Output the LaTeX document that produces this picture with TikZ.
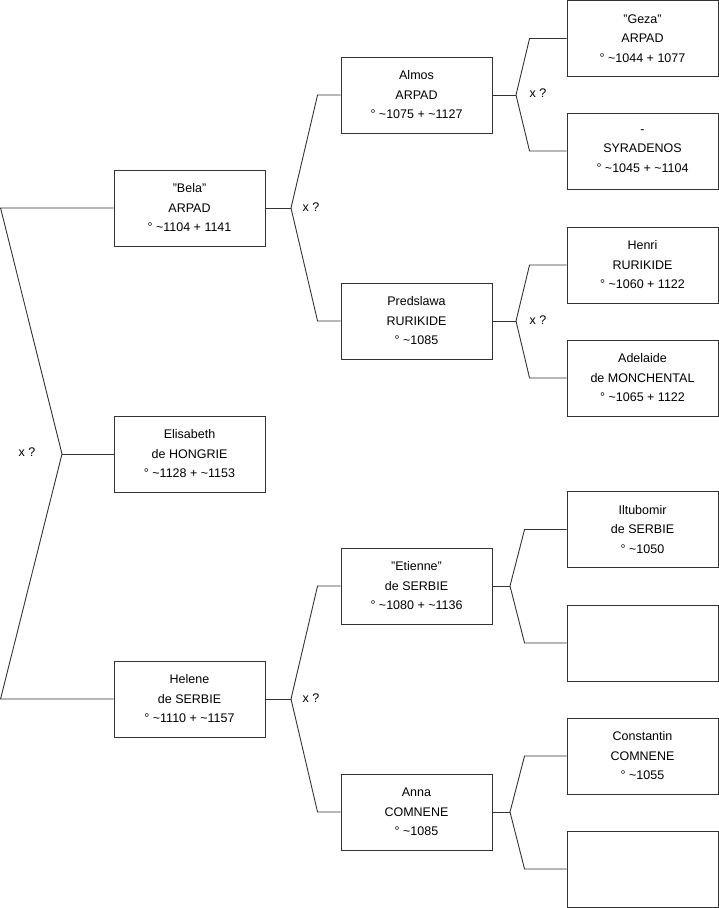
\documentclass[tikz,border=0pt]{standalone}
\usepackage{fontspec}
\setmainfont{Liberation Sans}
\begin{document}
\begin{tikzpicture}[x=1pt,y=-1pt,
  person/.style={draw=black!80, line width=0.9pt, minimum width=151pt, minimum height=76pt,
    inner sep=0pt, align=center, font=\fontsize{12.5}{19.5}\selectfont, text=black},
  conn/.style={draw=black!80, line width=0.9pt},
  lbl/.style={font=\fontsize{12.5}{15}\selectfont, text=black, inner sep=0pt}]
\useasboundingbox (0,0) rectangle (719,908);
% level 1
\node[person] (bela) at (189.5,208) {"Bela"\\ARPAD\\° \textasciitilde1104 + 1141};
\node[person] (eli) at (189.5,454) {Elisabeth\\de HONGRIE\\° \textasciitilde1128 + \textasciitilde1153};
\node[person] (helene) at (189.5,699) {Helene\\de SERBIE\\° \textasciitilde1110 + \textasciitilde1157};
% level 2
\node[person] (almos) at (416.5,95) {Almos\\ARPAD\\° \textasciitilde1075 + \textasciitilde1127};
\node[person] (pred) at (416.5,321) {Predslawa\\RURIKIDE\\° \textasciitilde1085};
\node[person] (etienne) at (416.5,586) {"Etienne"\\de SERBIE\\° \textasciitilde1080 + \textasciitilde1136};
\node[person] (anna) at (416.5,812) {Anna\\COMNENE\\° \textasciitilde1085};
% level 3
\node[person] (geza) at (642.5,38.5) {"Geza"\\ARPAD\\° \textasciitilde1044 + 1077};
\node[person] (syra) at (642.5,151) {-\\SYRADENOS\\° \textasciitilde1045 + \textasciitilde1104};
\node[person] (henri) at (642.5,265) {Henri\\RURIKIDE\\° \textasciitilde1060 + 1122};
\node[person] (adel) at (642.5,378) {Adelaide\\de MONCHENTAL\\° \textasciitilde1065 + 1122};
\node[person] (iltu) at (642.5,529.5) {Iltubomir\\de SERBIE\\° \textasciitilde1050};
\node[person] (emptyA) at (642.5,643) {};
\node[person] (const) at (642.5,756) {Constantin\\COMNENE\\° \textasciitilde1055};
\node[person] (emptyB) at (642.5,869) {};
% junctions
\coordinate (j0) at (62,454);
\coordinate (j1) at (291,208);
\coordinate (j2) at (291,699);
\coordinate (j3) at (516,95);
\coordinate (j4) at (516,321);
\coordinate (j5) at (510,586);
\coordinate (j6) at (510,812);
% root
\draw[conn] (eli.west) -- (j0);
\draw[conn] (j0) -- ([xshift=-113pt]bela.west) -- (bela.west);
\draw[conn] (j0) -- ([xshift=-113pt]helene.west) -- (helene.west);
\node[lbl] (x0) at (27,452) {x ?};
% Bela
\draw[conn] (bela.east) -- (j1);
\draw[conn] (j1) -- ([xshift=-23pt]almos.west) -- (almos.west);
\draw[conn] (j1) -- ([xshift=-23pt]pred.west) -- (pred.west);
\node[lbl] (x1) at (311,207) {x ?};
% Helene
\draw[conn] (helene.east) -- (j2);
\draw[conn] (j2) -- ([xshift=-23pt]etienne.west) -- (etienne.west);
\draw[conn] (j2) -- ([xshift=-23pt]anna.west) -- (anna.west);
\node[lbl] (x2) at (311,698) {x ?};
% Almos
\draw[conn] (almos.east) -- (j3);
\draw[conn] (j3) -- ([xshift=-37pt]geza.west) -- (geza.west);
\draw[conn] (j3) -- ([xshift=-37pt]syra.west) -- (syra.west);
\node[lbl] (x3) at (538,93) {x ?};
% Predslawa
\draw[conn] (pred.east) -- (j4);
\draw[conn] (j4) -- ([xshift=-37pt]henri.west) -- (henri.west);
\draw[conn] (j4) -- ([xshift=-37pt]adel.west) -- (adel.west);
\node[lbl] (x4) at (538,320) {x ?};
% Etienne
\draw[conn] (etienne.east) -- (j5);
\draw[conn] (j5) -- ([xshift=-42pt]iltu.west) -- (iltu.west);
\draw[conn] (j5) -- ([xshift=-42pt]emptyA.west) -- (emptyA.west);
% Anna
\draw[conn] (anna.east) -- (j6);
\draw[conn] (j6) -- ([xshift=-42pt]const.west) -- (const.west);
\draw[conn] (j6) -- ([xshift=-42pt]emptyB.west) -- (emptyB.west);
\end{tikzpicture}
\end{document}
